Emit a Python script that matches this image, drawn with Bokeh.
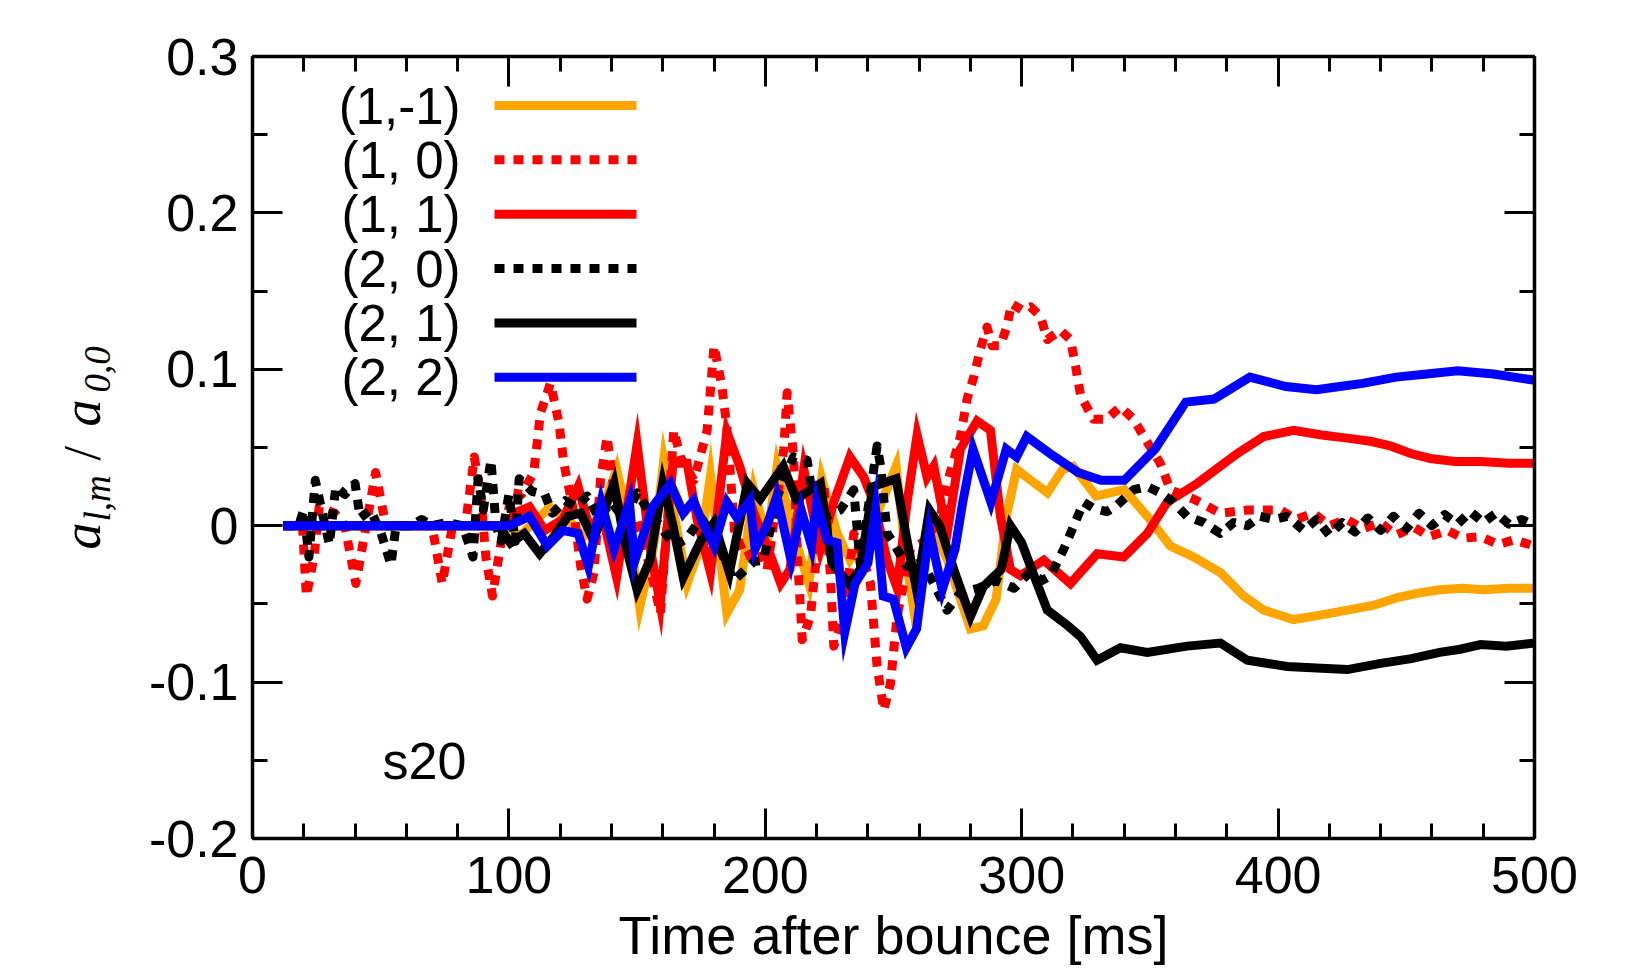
from bokeh.plotting import figure
from bokeh.layouts import row
from bokeh.models import (Range1d, LinearAxis, FixedTicker, Label,
                          CustomJSTickFormatter)
from bokeh.embed import file_html
from bokeh.resources import INLINE
import math

# ---------------- data ----------------
X_TICKS = [0, 100, 200, 300, 400, 500]
X_MINOR = list(range(0, 501, 20))
Y_TICKS = [-0.2, -0.1, 0.0, 0.1, 0.2, 0.3]
Y_MINOR = [-0.2, -0.15, -0.1, -0.05, 0.0, 0.05, 0.1, 0.15, 0.2, 0.25, 0.3]
Y_TICK_LABELS = ["-0.2", "-0.1", "0", "0.1", "0.2", "0.3"]
X_TICK_LABELS = ["0", "100", "200", "300", "400", "500"]

LEGEND_LABELS = ["(1,-1)", "(1, 0)", "(1, 1)", "(2, 0)", "(2, 1)", "(2, 2)"]

# (1,-1)
t_1m1 = [12, 100, 104, 116, 123, 129, 136, 142, 146, 151,
         156.5, 160.4, 165.6, 169.5, 174.7, 178.6, 185, 190, 195.5, 200.7,
         204.6, 211, 217, 222, 228, 233, 240.5, 251, 255, 258,
         264, 271, 280, 285, 290, 294, 298, 302, 310, 316,
         320, 329, 340, 349, 358, 367, 377.5, 386.6, 394.4, 406,
         417, 427, 437, 446.5, 455, 463, 472, 480, 490, 500]
a_1m1 = [0, 0, -0.007, 0.012, 0.004, -0.007, 0.008, 0.036, 0.008, -0.052,
         -0.013, 0.042, -0.003, -0.037, -0.013, 0.032, -0.056, -0.041, 0.023, -0.009,
         0.038, -0.005, -0.037, 0.03, -0.005, -0.022, -0.005, 0.038, -0.022, -0.055,
         0.005, -0.022, -0.066, -0.064, -0.047, 0.006, 0.036, 0.031, 0.021, 0.036,
         0.038, 0.019, 0.023, 0.006, -0.013, -0.02, -0.03, -0.045, -0.054, -0.06,
         -0.057, -0.054, -0.051, -0.046, -0.043, -0.041, -0.04, -0.041, -0.04, -0.04]

# (1, 0)
t_10 = [12, 19.5, 21, 24, 26, 32, 36, 40.3, 48, 52,
        70, 74, 78, 83, 86.5, 89, 91, 93.6, 97, 101.4,
        105, 109.7, 112.3, 116.2, 119.5, 121.4, 125.4, 128, 130.5, 133.2,
        135.7, 138.3, 140.9, 146, 150, 155.2, 159.1, 163, 164.3, 166.9,
        172.1, 177.3, 180, 183, 185, 188, 192, 198, 200.7, 204,
        207.2, 208.5, 211, 212.4, 214.4, 217.6, 220.2, 222.8, 225.4, 226.7,
        230.6, 234.5, 238, 241, 243.6, 246.2, 248.8, 251.4, 254, 256.6,
        263.1, 268.3, 270.9, 276.1, 278.7, 281.3, 283.9, 286.5, 288.5, 291.7,
        294.3, 296, 300, 303.4, 307.3, 310, 315, 319, 321, 323,
        328, 333, 338.5, 343.7, 347.6, 354, 358, 367, 377.5, 388,
        401, 407, 413.8, 420, 426.8, 433, 439.8, 446, 453, 459,
        466, 472, 479, 486, 492, 500]
a_10 = [0, 0, -0.045, -0.02, 0.012, 0.008, 0, -0.037, 0.034, 0,
        0, -0.037, 0, 0, 0.044, 0.02, -0.02, -0.045, -0.01, 0.021,
        0.02, 0.034, 0.072, 0.091, 0.066, 0.04, 0.008, -0.026, -0.047, -0.03,
        0.029, 0.057, 0.023, -0.005, 0.004, -0.028, -0.056, 0.029, 0.061, 0.044,
        0.029, 0.061, 0.115, 0.09, 0.063, -0.003, -0.02, -0.015, -0.028, 0.01,
        0.049, 0.085, 0.045, -0.015, -0.073, -0.058, -0.015, 0.027, -0.032, -0.077,
        -0.058, -0.005, -0.02, -0.037, -0.09, -0.118, -0.101, -0.058, -0.037, -0.015,
        -0.009, 0.006, 0.027, 0.057, 0.081, 0.095, 0.113, 0.127, 0.115, 0.115,
        0.128, 0.142, 0.138, 0.14, 0.134, 0.119, 0.125, 0.119, 0.102, 0.083,
        0.068, 0.068, 0.076, 0.068, 0.057, 0.04, 0.023, 0.017, 0.008, 0.01,
        0.01, 0.004, 0.008, 0.0, 0.004, -0.002, 0.002, -0.006, -0.001, -0.007,
        -0.003, -0.008, -0.007, -0.012, -0.009, -0.013]

# (1, 1)
t_11 = [12, 100, 102, 108, 114, 121, 127, 132, 136, 142,
        150, 155, 159, 164, 169.5, 173.4, 178.6, 185, 190, 195.5,
        200.7, 206, 209.6, 215, 221.5, 226.7, 233, 238.4, 242.3, 247.5,
        251.4, 255.3, 259.2, 263.1, 265.7, 270.9, 276.1, 282.6, 287.8, 291.7,
        295.6, 299.5, 308.6, 319, 329.4, 339.8, 349, 356.7, 368.4, 384,
        394.4, 406, 417, 427, 436, 443.8, 452, 459.4, 469, 479, 490, 500]
a_11 = [0, 0, 0.008, 0.012, -0.003, 0.004, 0.025, -0.005, 0.01, -0.033,
        0.052, -0.013, -0.05, 0.04, 0.04, 0.004, -0.03, 0.06, 0.038, 0.008,
        -0.013, -0.037, -0.028, 0.036, -0.015, 0.015, 0.044, 0.031, 0.015, -0.022,
        -0.04, 0.015, 0.058, 0.031, 0.038, -0.005, 0.049, 0.067, 0.061, 0.006,
        -0.028, -0.032, -0.022, -0.037, -0.018, -0.02, -0.005, 0.015, 0.027, 0.046,
        0.057, 0.061, 0.058, 0.056, 0.054, 0.051, 0.046, 0.043, 0.041, 0.041, 0.04, 0.04]

# (2, 0)
t_20 = [12, 18, 20, 22, 24.5, 27, 30, 32.5, 36, 40,
        42, 46, 50, 54, 56, 62, 66, 70, 76, 82,
        86, 88, 90, 93, 95, 97, 100, 102.5, 104, 109,
        114, 117, 122, 126, 130.5, 135, 140, 145, 150, 155,
        159, 164.3, 169.5, 175, 181, 187.7, 195.5, 199.3, 205, 211,
        216.3, 217.6, 224, 229.2, 234.5, 237, 243.6, 245, 247.5, 250,
        255.3, 260, 265.7, 270.9, 276, 283, 290, 297, 303, 308,
        311.2, 316.4, 320.3, 324.2, 328.2, 333.2, 337.1, 343.7, 349, 354,
        359.2, 364.5, 371, 377.5, 382.7, 388, 393, 398.4, 403.5, 410,
        415, 420, 425, 430, 435, 440, 445, 450, 455, 460,
        465, 470, 475, 480, 485, 490, 495, 500]
a_20 = [0, 0, 0.01, -0.02, 0.029, 0.01, -0.012, 0.025, 0.02, 0.027,
        0.005, 0.01, -0.004, -0.025, 0, 0, 0.004, 0, 0.002, 0,
        -0.02, 0.03, 0.01, 0.042, 0.0, -0.01, 0.02, -0.01, 0.03, 0.022,
        0.02, 0.008, 0.016, 0.012, 0.019, 0.005, 0.015, 0.004, 0.021, 0.008,
        0.0, -0.013, -0.008, 0.005, -0.01, -0.035, -0.023, -0.022, 0.02, 0.044,
        0.042, 0.028, 0.006, 0.01, 0.023, -0.024, 0.051, 0.038, -0.005, -0.011,
        -0.026, -0.02, -0.037, -0.054, -0.043, -0.04, -0.035, -0.04, -0.03, -0.035,
        -0.032, -0.015, 0, 0.015, 0.011, 0.009, 0.013, 0.023, 0.025, 0.021,
        0.015, 0.006, 0.002, -0.005, 0.002, 0, 0.006, 0.004, 0.006, -0.003,
        0.004, -0.006, 0.002, -0.004, 0.005, -0.003, 0.006, -0.002, 0.008, 0.0,
        0.007, 0.001, 0.009, 0.002, 0.008, 0.001, 0.004, 0.0]

# (2, 1)
t_21 = [12, 96, 100.6, 106, 112, 117.5, 123, 128, 133, 141, 145, 150,
        155, 160, 164, 168, 175, 180, 186, 193, 198, 207,
        212, 221.5, 226, 232.6, 237, 242, 251, 255, 259, 264,
        268, 273.5, 280, 285, 292, 295.6, 300, 306, 310, 318,
        323, 329.4, 338.5, 349, 364.5, 377.5, 388, 403.5, 415, 427, 440,
        452, 463, 471, 479, 489, 500]
a_21 = [0, 0, -0.011, -0.005, -0.018, -0.007, 0.006, 0.008, -0.009, 0.027, -0.009, -0.041,
        -0.022, 0.027, 0, -0.033, -0.009, 0.002, -0.03, 0.027, 0.017, 0.038,
        0.017, 0.027, -0.024, -0.037, -0.028, 0.025, 0.03, -0.007, -0.041, 0.01,
        0, -0.028, -0.058, -0.039, -0.028, 0, -0.011, -0.037, -0.054, -0.064,
        -0.071, -0.086, -0.078, -0.081, -0.077, -0.075, -0.086, -0.09, -0.091, -0.092, -0.088,
        -0.085, -0.081, -0.079, -0.076, -0.077, -0.075]

# (2, 2)
t_22 = [12, 100, 108, 115, 121, 127, 131, 136, 141, 147,
        149, 156, 163, 168, 172, 175, 180, 185, 189, 194,
        196, 201, 204.5, 210, 214, 218, 220, 224, 228, 231,
        235, 240, 243, 246, 250, 255, 259, 264, 269, 274,
        277, 281, 288, 294, 298, 302, 312, 322, 331, 340,
        352, 364, 375, 389, 403, 415, 424, 433, 446, 458, 470, 484,
        500]
a_22 = [0, 0, 0.006, -0.013, -0.003, -0.005, -0.026, 0.015, -0.015, 0.015,
        -0.023, 0.012, 0.027, 0.008, 0.016, 0.004, -0.013, 0.015, 0.005, 0.016,
        -0.015, 0.002, 0.019, -0.022, 0.01, -0.013, 0.015, -0.009, -0.011, -0.068,
        -0.037, -0.024, 0.01, -0.045, -0.047, -0.078, -0.066, -0.003, -0.041, -0.015,
        0.015, 0.049, 0.015, 0.049, 0.044, 0.057, 0.045, 0.034, 0.029, 0.029,
        0.049, 0.079, 0.081, 0.095, 0.089, 0.087, 0.089, 0.091, 0.095, 0.097, 0.099, 0.097,
        0.093]

SERIES = [
    (t_1m1, a_1m1, "#ffa500", None),
    (t_10, a_10, "#ff0000", "10 9"),
    (t_11, a_11, "#ff0000", None),
    (t_20, a_20, "#000000", "10 9"),
    (t_21, a_21, "#000000", None),
    (t_22, a_22, "#0000ff", None),
]

# ---------------- layout (page pixels) ----------------
SIDE_W = 130                      # narrow strip at the left holding the y-axis title
FRAME_L, FRAME_T, FRAME_W, FRAME_H = 252, 56, 1282, 782
BOTTOM = 135
X0, X1, Y0, Y1 = 0, 500, -0.2, 0.3
BASE_SHIFT = 0.4   # em: renderer puts the "alphabetic" baseline this far below the anchor


def px2t(xp):
    return X0 + (xp - FRAME_L) / FRAME_W * (X1 - X0)


def px2v(yp):
    return Y1 - (yp - FRAME_T) / FRAME_H * (Y1 - Y0)


SANS = "Liberation Sans"
SERIF = "Liberation Serif"

p = figure(frame_width=FRAME_W, frame_height=FRAME_H,
           x_range=Range1d(X0, X1), y_range=Range1d(Y0, Y1),
           output_backend="svg", toolbar_location=None,
           min_border_left=FRAME_L - SIDE_W, min_border_top=FRAME_T,
           min_border_right=80, min_border_bottom=BOTTOM)
p.grid.visible = False
p.outline_line_color = None
p.background_fill_color = "white"
p.border_fill_color = "white"

FMT_CODE = """
let b = 0, d = 1e9;
for (let i = 0; i < tv.length; i++) { const e = Math.abs(tv[i] - tick); if (e < d) { d = e; b = i; } }
return tl[b];
"""
x_fmt = CustomJSTickFormatter(args=dict(tv=X_TICKS, tl=X_TICK_LABELS), code=FMT_CODE)
y_fmt = CustomJSTickFormatter(args=dict(tv=Y_TICKS, tl=Y_TICK_LABELS), code=FMT_CODE)
blank_fmt = CustomJSTickFormatter(code="return '';")


def style_axis(ax, ticks, minor, fmt, standoff):
    ax.ticker = FixedTicker(ticks=ticks, minor_ticks=minor)
    ax.axis_line_width = 3.5
    ax.axis_line_color = "black"
    ax.major_tick_line_width = 3
    ax.minor_tick_line_width = 3
    ax.major_tick_in = 30
    ax.major_tick_out = 0
    ax.minor_tick_in = 15
    ax.minor_tick_out = 0
    ax.major_label_text_font = SANS
    ax.major_label_text_font_size = "52px"
    ax.major_label_text_color = "black"
    ax.major_label_standoff = standoff
    ax.formatter = fmt


style_axis(p.xaxis[0], X_TICKS, X_MINOR, x_fmt, 18)
style_axis(p.yaxis[0], Y_TICKS, Y_MINOR, y_fmt, 14)
xa = p.xaxis[0]
xa.axis_label = "Time after bounce [ms]"
xa.axis_label_text_font = SANS
xa.axis_label_text_font_size = "54px"
xa.axis_label_text_font_style = "normal"
xa.axis_label_text_color = "black"
xa.axis_label_standoff = 9

top_ax = LinearAxis()
style_axis(top_ax, X_TICKS, X_MINOR, blank_fmt, 0)
p.add_layout(top_ax, "above")
right_ax = LinearAxis()
style_axis(right_ax, Y_TICKS, Y_MINOR, blank_fmt, 0)
p.add_layout(right_ax, "right")

# ---------------- data lines ----------------
for t, a, col, dash in SERIES:
    kw = dict(line_color=col, line_width=9, line_join="miter")
    if dash:
        kw["line_dash"] = dash
        kw["line_cap"] = "butt"
        kw["line_join"] = "round"
    p.line(t, a, **kw)


def add_text(text, xp, yp_base, size, align="left", font=SANS, style="normal"):
    """Place text with its alphabetic baseline at page pixel yp_base."""
    p.add_layout(Label(x=px2t(xp), y=px2v(yp_base - BASE_SHIFT * size),
                       text=text, text_align=align, text_baseline="alphabetic",
                       text_font=font, text_font_style=style,
                       text_font_size=f"{size}px", text_color="black"))


# ---------------- legend (labels left of samples) ----------------
for i, ((t, a, col, dash), lab) in enumerate(zip(SERIES, LEGEND_LABELS)):
    yline = 105 + 54.35 * i
    kw = dict(line_color=col, line_width=9)
    if dash:
        kw["line_dash"] = dash
        kw["line_cap"] = "butt"
    p.line([px2t(494), px2t(636)], [px2v(yline), px2v(yline)], **kw)
    add_text(lab, 460, yline + 21, 51, align="right")

add_text("s20", 382, 781.5, 52)

# ---------------- y-axis title in a narrow side strip ----------------
# the row aligns the strip's frame with the main frame (top at FRAME_T),
# so its data y equals page y.
side = figure(frame_width=SIDE_W, frame_height=FRAME_H,
              x_range=Range1d(0, SIDE_W), y_range=Range1d(FRAME_T + FRAME_H, FRAME_T),
              output_backend="svg", toolbar_location=None,
              x_axis_type=None, y_axis_type=None,
              min_border_left=0, min_border_right=0,
              min_border_top=FRAME_T, min_border_bottom=BOTTOM)
side.grid.visible = False
side.outline_line_color = None
side.background_fill_color = "white"
side.border_fill_color = "white"

# a_{l,m} / a_{0,0}: (text, baseline x, start y, size, style) in page pixels
ylab_parts = [
    ("a", 103, 549, 54, "italic"),
    ("l,m", 112, 521, 37, "italic"),
    ("/", 103, 460, 52, "normal"),
    ("a", 103, 426, 54, "italic"),
    ("0,0", 112, 392, 37, "italic"),
]
for txt, bx, yp, fs, st in ylab_parts:
    side.add_layout(Label(x=bx - BASE_SHIFT * fs, y=yp,
                          text=txt, angle=math.pi / 2, text_align="left",
                          text_baseline="alphabetic", text_font=SERIF,
                          text_font_style=st, text_font_size=f"{fs}px",
                          text_color="black"))

layout = row(side, p, spacing=0)
open("out.html", "w").write(file_html(layout, INLINE))
